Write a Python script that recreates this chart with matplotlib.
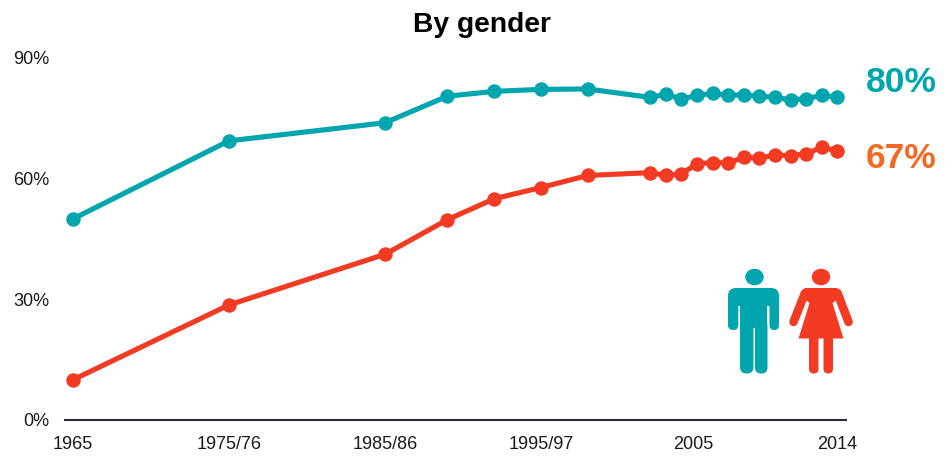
import matplotlib
matplotlib.use('Agg')
import matplotlib.pyplot as plt
from matplotlib.patches import Ellipse, FancyBboxPatch, Polygon, Rectangle

plt.rcParams['font.family'] = ['Liberation Sans', 'DejaVu Sans']

years = [1965, 1975, 1985, 1989, 1992, 1995, 1998, 2002, 2003, 2004, 2005, 2006,
         2007, 2008, 2009, 2010, 2011, 2012, 2013, 2014]
men = [50, 69.4, 73.9, 80.5, 81.7, 82.2, 82.3, 80.2, 81, 79.8, 80.7, 81.2,
       80.8, 80.8, 80.5, 80.2, 79.6, 79.9, 80.7, 80.3]
women = [10, 28.6, 41.2, 49.8, 55, 57.8, 60.8, 61.5, 60.8, 61.2, 63.7, 64,
         63.9, 65.3, 65.1, 65.9, 65.7, 66.2, 67.8, 66.9]
x_ticks = [1965, 1975, 1985, 1995, 2004.75, 2014]
x_labels = ['1965', '1975/76', '1985/86', '1995/97', '2005', '2014']
y_ticks = [0, 30, 60, 90]
y_labels = ['0%', '30%', '60%', '90%']

TEAL = '#00A5AE'
RED = '#F23B22'
ORANGE = '#F36A26'
W, H = 953, 457


def rounded(ax, x0, y0, x1, y1, r, color):
    ax.add_patch(FancyBboxPatch((x0 + r, y0 + r), x1 - x0 - 2 * r, y1 - y0 - 2 * r,
                                boxstyle=f'round,pad={r},rounding_size={r}',
                                fc=color, ec='none'))


def draw_man(ax, ox, oy, color):
    ax.add_patch(Ellipse((ox + 44.5, oy + 17), 18.5, 16.5, fc=color, ec='none'))
    rounded(ax, ox + 18, oy + 28, ox + 69, oy + 46, 8, color)
    rounded(ax, ox + 18, oy + 32, ox + 28.3, oy + 70, 5, color)
    rounded(ax, ox + 59.5, oy + 32, ox + 69, oy + 70, 4.7, color)
    ax.add_patch(Rectangle((ox + 30, oy + 30), 27.5, 38, fc=color, ec='none'))
    rounded(ax, ox + 30, oy + 60, ox + 43.5, oy + 113.5, 6.5, color)
    rounded(ax, ox + 45, oy + 60, ox + 57.5, oy + 113.5, 6, color)


def draw_woman(ax, ox, oy, color):
    ax.add_patch(Ellipse((ox + 111, oy + 17), 18.5, 16.5, fc=color, ec='none'))
    ax.add_patch(Polygon([(ox + 90, oy + 36), (ox + 95, oy + 28), (ox + 127, oy + 28),
                          (ox + 132, oy + 36), (ox + 122.5, oy + 43), (ox + 133.5, oy + 78.5),
                          (ox + 88.5, oy + 78.5), (ox + 99.5, oy + 43)], fc=color, ec='none'))
    ax.plot([ox + 95, ox + 83.5], [oy + 33, oy + 62], color=color, lw=6.2, solid_capstyle='round')
    ax.plot([ox + 127.5, ox + 138.5], [oy + 33, oy + 62], color=color, lw=6.2, solid_capstyle='round')
    rounded(ax, ox + 99, oy + 74, ox + 108.5, oy + 113.5, 4.7, color)
    rounded(ax, ox + 113.5, oy + 74, ox + 123, oy + 113.5, 4.7, color)


fig = plt.figure(figsize=(W / 100, H / 100), dpi=100)
ax = fig.add_axes([65 / W, 1 - 420 / H, 781 / W, 362 / H])

ax.plot(years, men, color=TEAL, lw=3.7, marker='o', ms=10.4, mew=0, clip_on=False)
ax.plot(years, women, color=RED, lw=3.7, marker='o', ms=10.4, mew=0, clip_on=False)

ax.set_xlim(1964.49, 2014.55)
ax.set_ylim(0, 90)
ax.set_xticks(x_ticks, x_labels)
ax.set_yticks(y_ticks, y_labels)
ax.tick_params(axis='both', length=0, labelsize=13, labelcolor='#1A1A1A')
ax.tick_params(axis='x', pad=11.5)
ax.tick_params(axis='y', pad=11.5)
for side in ['top', 'left', 'right']:
    ax.spines[side].set_visible(False)
ax.spines['bottom'].set_color('#2A2E33')
ax.spines['bottom'].set_linewidth(1.5)

# overlay in pixel coordinates for title, end labels and the two figures
over = fig.add_axes([0, 0, 1, 1], facecolor='none')
over.set_xlim(0, W)
over.set_ylim(H, 0)
over.axis('off')
over.text(482, 25, 'By gender', ha='center', va='center', fontsize=20.3, fontweight='bold', color='black')
over.text(901.5, 82, '80%', ha='center', va='center', fontsize=25.5, fontweight='bold', color=TEAL)
over.text(901.5, 158, '67%', ha='center', va='center', fontsize=25.5, fontweight='bold', color=ORANGE)
draw_man(over, 710, 260, TEAL)
draw_woman(over, 710, 260, RED)

fig.savefig('out.png', dpi=100)
